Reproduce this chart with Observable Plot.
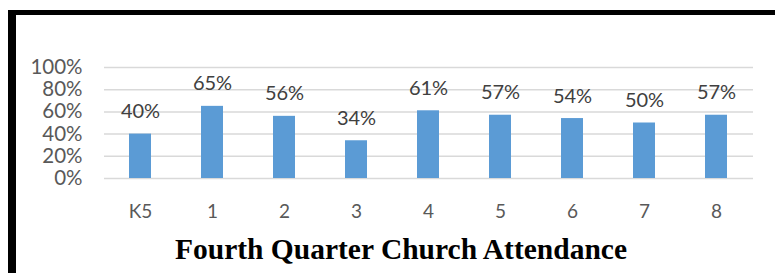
<!DOCTYPE html>
<html>
<head>
<meta charset="utf-8">
<script src="https://cdn.jsdelivr.net/npm/d3@7"></script>
<script src="https://cdn.jsdelivr.net/npm/@observablehq/plot@0.6"></script>
<style>
  html, body { margin: 0; padding: 0; background: #fff; }
  #wrap { position: relative; width: 775px; height: 273px; overflow: hidden; }
  #chart { position: absolute; left: 0; top: 0; }
  #bl { position: absolute; left: 8px; top: 10px; width: 8px; height: 263px; background: #000; }
  #bt { position: absolute; left: 8px; top: 10px; width: 767px; height: 5px; background: #000; }
  #title { position: absolute; left: 0; width: 802px; top: 235px; text-align: center; line-height: 1;
           font-family: "Liberation Serif", "Times New Roman", serif; font-weight: bold; font-size: 29.5px; color: #000; }
</style>
</head>
<body>
<div id="wrap">
  <div id="chart"></div>
  <div id="bl"></div>
  <div id="bt"></div>
  <div id="title">Fourth Quarter Church Attendance</div>
</div>
<script>
const grades = ["K5", "1", "2", "3", "4", "5", "6", "7", "8"];
const attendance = [0.40, 0.65, 0.56, 0.34, 0.61, 0.57, 0.54, 0.50, 0.57];
const yTicks = [0, 0.2, 0.4, 0.6, 0.8, 1.0];

const data = grades.map((g, i) => ({grade: g, value: attendance[i]}));
const pct = d3.format(".0%");

const chart = Plot.plot({
  width: 775,
  height: 230,
  marginLeft: 104,
  marginRight: 22,
  marginTop: 67,
  marginBottom: 52,
  style: {fontFamily: "Lato, 'Open Sans', sans-serif", background: "transparent"},
  x: {domain: grades, paddingInner: 0.69, paddingOuter: 0.345, label: null},
  y: {domain: [0, 1], label: null},
  marks: [
    Plot.gridY(yTicks, {stroke: "#d9d9d9", strokeOpacity: 1, strokeWidth: 1.5}),
    Plot.axisY(yTicks, {tickSize: 0, tickPadding: 22, tickFormat: pct, fontSize: 20.5, fill: "#595959", label: null}),
    Plot.axisX({tickSize: 0, tickPadding: 26, fontSize: 19, fill: "#595959", label: null}),
    Plot.barY(data, {x: "grade", y: "value", fill: "#5b9bd5"}),
    Plot.text(data, {x: "grade", y: "value", text: d => pct(d.value), lineAnchor: "bottom", dy: -16, fontSize: 20, fill: "#404040"})
  ]
});
document.getElementById("chart").appendChild(chart);
</script>
</body>
</html>
